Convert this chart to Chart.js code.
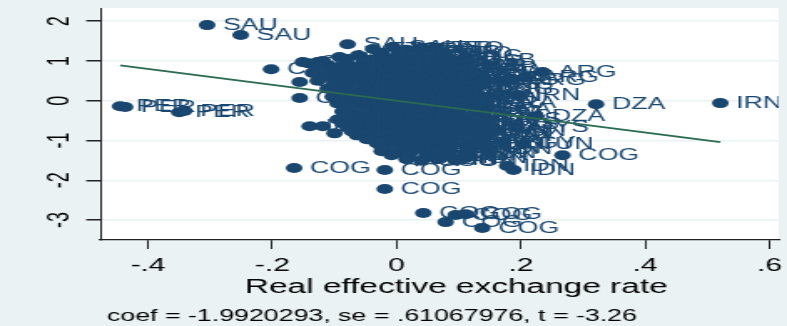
<!DOCTYPE html>
<html>
<head>
<meta charset="utf-8">
<script src="https://cdn.jsdelivr.net/npm/chart.js@4.4.1/dist/chart.umd.min.js"></script>
<style>
  html, body { margin: 0; padding: 0; background: #eaf2f3; overflow: hidden; }
  /* the original graph was stretched sideways, so draw it narrow and widen the box */
  #wrap { width: 471px; height: 326px; transform: scaleX(1.671); transform-origin: 0 0; }
</style>
</head>
<body>
<div id="wrap"><canvas id="avplot"></canvas></div>
<script>
/* DATA */
const countries = [
    "SAU", "SAU", "SAU", "PER", "PER", "PER", "PER", "CHN",
    "COG", "COG", "COG", "COG", "COG", "COG", "COG", "COG", "COG",
    "IDN", "IDN", "EGY", "TUN", "MYS", "DZA", "DZA", "IRN", "IRN",
    "ARG", "ARG", "ARG", "GAB", "TUN", "IDN", "IDN",
    "CIV", "CMR", "CMR", "CHN", "IDN", "IDN", "NGA",
    "TTO", "SAU", "TTO", "GAB", "TTO",
    "MNG", "CHN", "VEN", "TTO", "BOL", "GAB", "MNG",
    "CMR", "CIV", "CHN", "NGA", "VEN", "ECU", "KAZ", "RUS", "BOL", "GAB",
    "CHN", "CMR", "NGA", "MNG", "ECU", "VEN", "COL", "BRA", "KAZ", "RUS", "BRA",
    "CIV", "NGA", "CHN", "IDN", "MEX", "COL", "CHL", "BRA", "ZAF", "MNG", "ARG",
    "NER", "CMR", "IDN", "THA", "PHL", "MEX", "CHL", "URY", "IRN", "MNG",
    "CIV", "IDN", "THA", "IND", "PHL", "COL", "ECU", "PRY", "IRN", "IRN",
    "CHN", "IDN", "IND", "THA", "MEX", "BRA", "VEN", "IRN", "DZA", "BRA",
    "NGA", "IDN", "PHL", "IND", "ZAF", "KAZ", "RUS", "MYS", "DZA",
    "IDN", "NGA", "THA", "EGY", "MYS", "TUN", "CHL", "MYS", "VEN", "MYS",
    "NGA", "IDN", "EGY", "TUN", "PHL", "MYS", "IND", "TUN", "MYS",
    "NGA", "IDN", "EGY", "TUN", "COG", "IDN", "EGY", "TUN", "EGY",
    "COG", "NGA", "IDN", "EGY", "TUN", "IDN", "EGY", "IDN",
    "COG", "IDN", "NGA", "EGY", "IDN", "TUN",
    "IDN", "COG", "IDN", "IDN"
];

// x: real effective exchange rate (residual)
const rer = [
    -0.305, -0.251, -0.079, -0.445, -0.437, -0.350, -0.342, -0.202,
    -0.165, -0.019, -0.019, 0.043, 0.079, 0.095, 0.111, 0.138, 0.267,
    0.188, 0.178, 0.172, 0.203, 0.191, 0.224, 0.321, 0.521, 0.196,
    0.235, 0.207, 0.186, 0.095, 0.159, 0.072, 0.111,
    -0.156, -0.151, -0.127, -0.156, -0.140, -0.119, -0.100,
    -0.038, -0.006, 0.016, 0.040, 0.062,
    -0.092, -0.062, -0.024, 0.002, 0.026, 0.049, 0.078,
    -0.143, -0.111, -0.081, -0.056, -0.030, -0.008, 0.018, 0.039, 0.064, 0.085,
    -0.135, -0.103, -0.080, -0.048, -0.024, 0.002, 0.024, 0.047, 0.070, 0.095, 0.122,
    -0.127, -0.095, -0.072, -0.048, -0.016, 0.008, 0.032, 0.064, 0.087, 0.111, 0.143,
    -0.111, -0.087, -0.064, -0.040, -0.008, 0.016, 0.040, 0.064, 0.095, 0.127,
    -0.103, -0.079, -0.056, -0.032, -0.008, 0.016, 0.048, 0.072, 0.103, 0.135,
    -0.095, -0.072, -0.048, -0.024, 0.000, 0.024, 0.056, 0.079, 0.111, 0.143,
    -0.087, -0.064, -0.040, -0.016, 0.008, 0.032, 0.064, 0.095, 0.127,
    -0.095, -0.072, -0.048, -0.024, 0.000, 0.024, 0.048, 0.079, 0.111, 0.146,
    -0.079, -0.056, -0.032, -0.008, 0.016, 0.040, 0.064, 0.095, 0.127,
    -0.064, -0.040, -0.016, 0.008, 0.032, 0.056, 0.087, 0.119, 0.143,
    -0.032, -0.008, 0.016, 0.040, 0.064, 0.087, 0.111, 0.140,
    -0.024, 0.000, 0.024, 0.048, 0.079, 0.111,
    0.016, 0.040, 0.064, 0.095
];

// y: outcome (residual)
const resid = [
    1.90, 1.65, 1.42, -0.14, -0.16, -0.29, -0.26, 0.79,
    -1.69, -1.74, -2.22, -2.82, -3.05, -2.87, -2.85, -3.20, -1.37,
    -1.74, -1.64, -1.07, -1.09, -0.67, -0.39, -0.09, -0.06, 0.14,
    0.72, 0.59, 0.52, 0.87, -0.76, -1.34, -1.44,
    0.07, 0.97, 0.97, 0.47, -0.64, -0.64, -0.82,
    1.30, 1.35, 1.28, 1.33, 1.31,
    1.10, 1.14, 1.09, 1.15, 1.12, 1.08, 1.13,
    0.94, 0.90, 0.95, 0.89, 0.93, 0.91, 0.96, 0.88, 0.92, 0.90,
    0.70, 0.74, 0.71, 0.75, 0.69, 0.73, 0.71, 0.76, 0.70, 0.72, 0.74,
    0.50, 0.54, 0.49, 0.53, 0.55, 0.51, 0.48, 0.53, 0.50, 0.54, 0.52,
    0.30, 0.34, 0.31, 0.35, 0.29, 0.33, 0.30, 0.34, 0.31, 0.29,
    0.10, 0.14, 0.09, 0.13, 0.15, 0.11, 0.08, 0.13, 0.10, 0.12,
    -0.07, -0.11, -0.06, -0.10, -0.08, -0.12, -0.07, -0.10, -0.09, -0.06,
    -0.27, -0.31, -0.26, -0.30, -0.28, -0.32, -0.27, -0.30, -0.29,
    -0.47, -0.51, -0.46, -0.50, -0.48, -0.52, -0.47, -0.50, -0.49, -0.46,
    -0.67, -0.71, -0.66, -0.70, -0.68, -0.72, -0.67, -0.70, -0.69,
    -0.87, -0.91, -0.86, -0.90, -0.88, -0.92, -0.87, -0.90, -0.89,
    -1.07, -1.11, -1.06, -1.10, -1.08, -1.12, -1.07, -1.10,
    -1.27, -1.31, -1.26, -1.30, -1.28, -1.32,
    -1.47, -1.51, -1.46, -1.50
];

// More observations packed inside the cloud (same three columns)
const cloudCountries = [
    "TTO", "SAU", "TTO", "GAB", "TTO",
    "CHN", "MNG", "VEN", "TTO", "BOL", "GAB", "KAZ", "RUS", "GAB",
    "CMR", "NGA", "CHN", "VEN", "ECU", "COL", "KAZ", "BRA", "RUS", "GAB",
    "CIV", "CHN", "NGA", "MNG", "ECU", "COL", "BRA", "ZAF", "KAZ", "ARG",
    "NER", "CMR", "IDN", "MEX", "PHL", "CHL", "URY", "BRA", "MNG", "ARG",
    "CIV", "IDN", "THA", "IND", "PHL", "COL", "ECU", "IRN", "IRN",
    "CHN", "IDN", "IND", "THA", "MEX", "BRA", "VEN", "IRN", "IRN",
    "NGA", "IDN", "PHL", "IND", "ZAF", "KAZ", "RUS", "DZA", "BRA",
    "IDN", "NGA", "THA", "EGY", "MYS", "TUN", "CHL", "MYS", "DZA",
    "NGA", "IDN", "EGY", "TUN", "PHL", "MYS", "IND", "TUN", "MYS", "MYS",
    "IDN", "EGY", "TUN", "COG", "IDN", "EGY", "TUN", "EGY", "TUN",
    "NGA", "IDN", "EGY", "TUN", "IDN", "EGY", "TUN", "EGY",
    "COG", "IDN", "NGA", "EGY", "IDN", "TUN", "IDN",
    "COG", "IDN", "EGY", "IDN", "IDN"
];

const cloudRer = [
    -0.024, 0.005, 0.029, 0.052, 0.076,
    -0.119, -0.083, -0.045, -0.013, 0.013, 0.035, 0.059, 0.083, 0.108,
    -0.124, -0.092, -0.067, -0.038, -0.013, 0.011, 0.035, 0.059, 0.083, 0.111,
    -0.114, -0.087, -0.060, -0.035, -0.008, 0.019, 0.043, 0.076, 0.103, 0.130,
    -0.102, -0.079, -0.056, -0.029, -0.003, 0.021, 0.048, 0.076, 0.108, 0.135,
    -0.091, -0.067, -0.045, -0.019, 0.005, 0.032, 0.059, 0.087, 0.119,
    -0.083, -0.060, -0.037, -0.013, 0.013, 0.037, 0.064, 0.092, 0.124,
    -0.076, -0.056, -0.032, -0.006, 0.016, 0.043, 0.072, 0.103, 0.135,
    -0.079, -0.056, -0.032, -0.006, 0.016, 0.040, 0.067, 0.099, 0.130,
    -0.087, -0.064, -0.040, -0.016, 0.008, 0.032, 0.059, 0.087, 0.114, 0.143,
    -0.072, -0.048, -0.024, 0.000, 0.024, 0.048, 0.075, 0.108, 0.135,
    -0.048, -0.024, 0.000, 0.024, 0.048, 0.075, 0.103, 0.130,
    -0.024, 0.000, 0.032, 0.059, 0.087, 0.119, 0.151,
    -0.008, 0.019, 0.048, 0.079, 0.114
];

const cloudResid = [
    1.20, 1.24, 1.21, 1.23, 1.19,
    1.00, 1.04, 1.01, 1.03, 0.99, 1.02, 1.05, 1.00, 1.03,
    0.80, 0.84, 0.81, 0.83, 0.79, 0.82, 0.85, 0.80, 0.83, 0.81,
    0.60, 0.64, 0.61, 0.63, 0.59, 0.62, 0.65, 0.60, 0.63, 0.61,
    0.40, 0.44, 0.41, 0.43, 0.39, 0.42, 0.45, 0.40, 0.43, 0.41,
    0.20, 0.24, 0.21, 0.23, 0.19, 0.22, 0.25, 0.20, 0.23,
    0.00, 0.04, 0.01, 0.03, -0.01, 0.02, 0.05, 0.00, 0.03,
    -0.17, -0.21, -0.18, -0.20, -0.16, -0.19, -0.22, -0.17, -0.20,
    -0.37, -0.41, -0.38, -0.40, -0.36, -0.39, -0.42, -0.37, -0.40,
    -0.57, -0.61, -0.58, -0.60, -0.56, -0.59, -0.62, -0.57, -0.60, -0.58,
    -0.77, -0.81, -0.78, -0.80, -0.76, -0.79, -0.82, -0.77, -0.80,
    -0.97, -1.01, -0.98, -1.00, -0.96, -0.99, -1.02, -0.97,
    -1.17, -1.21, -1.18, -1.20, -1.16, -1.19, -1.22,
    -1.37, -1.41, -1.38, -1.40, -1.36
];

const coef = -1.9920293;
const noteText = "coef = -1.9920293, se = .61067976, t = -3.26";
const xTitle = "Real effective exchange rate";

const xTicks = [-0.4, -0.2, 0, 0.2, 0.4, 0.6];
const xTickLabels = ["-.4", "-.2", "0", ".2", ".4", ".6"];
const yTicks = [-3, -2, -1, 0, 1, 2];
const yTickLabels = ["-3", "-2", "-1", "0", "1", "2"];

/*****************************************************************/

/* STYLE */
const navy = "#1a476f";
const fitGreen = "#2c6b52";
const bgColor = "#eaf2f3";
const axisColor = "#222222";
const fontFamily = '"Liberation Sans", Arial, sans-serif';

/*****************************************************************/

/* POINTS + FIT LINE */
const allCountries = countries.concat(cloudCountries);
const allRer = rer.concat(cloudRer);
const allResid = resid.concat(cloudResid);
const points = allRer.map((x, i) => ({ x: x, y: allResid[i] }));

// avplot line goes through the origin with the partial slope
const xMin = Math.min(...allRer);
const xMax = Math.max(...allRer);
const fitLine = [
    { x: xMin, y: coef * xMin },
    { x: xMax, y: coef * xMax }
];

/*****************************************************************/

/* PLUGINS */
// White plot region on the light bluish background
const plotBackground = {
    id: "plotBackground",
    beforeDraw(chart) {
        const { ctx, chartArea, width, height } = chart;
        ctx.save();
        ctx.fillStyle = bgColor;
        ctx.fillRect(0, 0, width, height);
        ctx.fillStyle = "#ffffff";
        ctx.fillRect(chartArea.left, chartArea.top, chartArea.right - chartArea.left, chartArea.bottom - chartArea.top);
        ctx.restore();
    }
};

// Country codes to the right of each marker, drawn before the fit line
const markerLabels = {
    id: "markerLabels",
    afterDatasetDraw(chart, args) {
        if (args.index !== 1) return;
        const ctx = chart.ctx;
        const area = chart.chartArea;
        ctx.save();
        ctx.beginPath();
        ctx.rect(area.left, area.top, area.right - area.left, area.bottom - area.top);
        ctx.clip();
        ctx.font = "16px " + fontFamily;
        ctx.fillStyle = navy;
        ctx.textAlign = "left";
        ctx.textBaseline = "middle";
        args.meta.data.forEach((pt, i) => {
            ctx.fillText(allCountries[i], pt.x + 9.5, pt.y + 0.5);
        });
        ctx.restore();
    }
};

// Axis title and the coef note under it
const bottomTexts = {
    id: "bottomTexts",
    afterDraw(chart) {
        const ctx = chart.ctx;
        ctx.save();
        ctx.fillStyle = "#000000";
        ctx.textBaseline = "alphabetic";
        ctx.font = "20px " + fontFamily;
        ctx.textAlign = "center";
        ctx.fillText(xTitle, 273, 293);
        ctx.font = "16px " + fontFamily;
        ctx.textAlign = "left";
        ctx.fillText(noteText, 64, 321);
        ctx.restore();
    }
};

/*****************************************************************/

/* CHART */
const context = document.getElementById("avplot").getContext("2d");
new Chart(context, {
    type: "scatter",
    data: {
        datasets: [
            {
                type: "line",
                data: fitLine,
                borderColor: fitGreen,
                borderWidth: 1.8,
                pointRadius: 0,
                fill: false
            },
            {
                data: points,
                backgroundColor: navy,
                borderWidth: 0,
                pointRadius: 5,
                pointHoverRadius: 5
            }
        ]
    },
    options: {
        responsive: true,
        maintainAspectRatio: false,
        animation: false,
        devicePixelRatio: 1,
        layout: { padding: { top: 8, left: 0, right: 0, bottom: 0 } },
        plugins: {
            legend: { display: false },
            tooltip: { enabled: false }
        },
        scales: {
            x: {
                type: "linear",
                min: -0.477,
                max: 0.615,
                afterBuildTicks: (scale) => { scale.ticks = xTicks.map(v => ({ value: v })); },
                afterFit: (scale) => { scale.height = 86; scale.paddingLeft = 0; scale.paddingRight = 0; },
                ticks: {
                    autoSkip: false,
                    maxRotation: 0,
                    padding: 6,
                    color: "#000000",
                    font: { family: fontFamily, size: 18 },
                    callback: (value, index) => xTickLabels[index]
                },
                grid: {
                    drawOnChartArea: false,
                    drawTicks: true,
                    tickLength: 9,
                    tickWidth: 1,
                    tickColor: axisColor
                },
                border: { display: true, color: axisColor, width: 1.2 }
            },
            y: {
                type: "linear",
                min: -3.5,
                max: 2.33,
                afterBuildTicks: (scale) => { scale.ticks = yTicks.map(v => ({ value: v })); },
                afterFit: (scale) => { scale.width = 60; scale.paddingTop = 0; scale.paddingBottom = 0; },
                ticks: {
                    minRotation: 90,
                    maxRotation: 90,
                    crossAlign: "center",
                    padding: 8,
                    color: "#000000",
                    font: { family: fontFamily, size: 18 },
                    callback: (value, index) => yTickLabels[index]
                },
                grid: {
                    color: bgColor,
                    lineWidth: 1.5,
                    drawTicks: true,
                    tickLength: 8.4,
                    tickWidth: 1.5,
                    tickColor: axisColor
                },
                border: { display: true, color: axisColor, width: 1 }
            }
        }
    },
    plugins: [plotBackground, markerLabels, bottomTexts]
});
</script>
</body>
</html>
